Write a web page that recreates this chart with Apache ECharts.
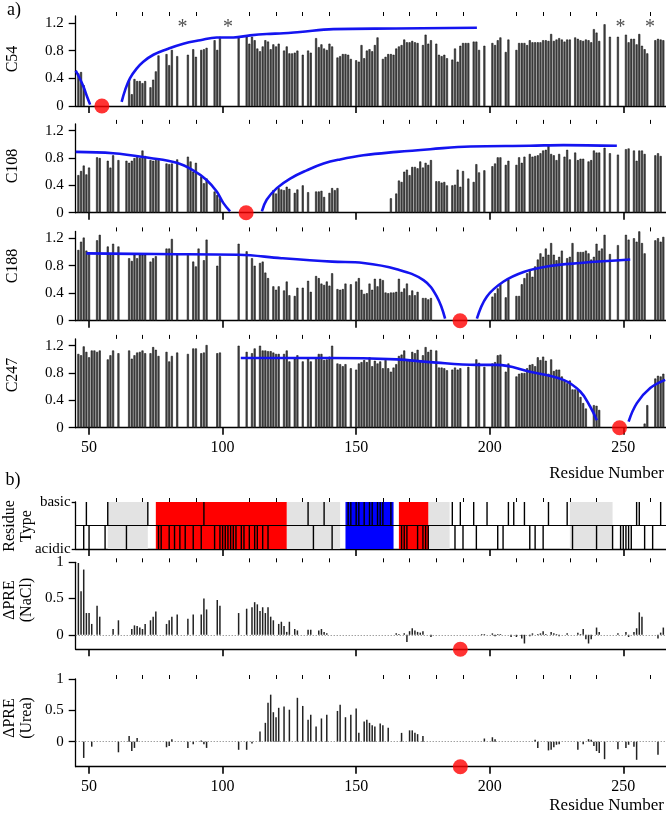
<!DOCTYPE html>
<html><head><meta charset="utf-8">
<script src="https://cdn.jsdelivr.net/npm/echarts@6/dist/echarts.min.js"></script>
<style>html,body{margin:0;padding:0;background:#fff}#c{width:666px;height:815px}</style>
</head><body><div id="c"></div>
<script>
// ---------------- DATA ----------------
const MAJOR_TICKS = [50, 100, 150, 200, 250];
const MINOR_TICKS = [60, 70, 80, 90, 110, 120, 130, 140, 160, 170, 180, 190, 210, 220, 230, 240, 260];
const TOP_Y_TICKS = [0, 0.4, 0.8, 1.2];
const PRE_Y_TICKS = [0, 0.5, 1];
const panelNames = ['C54', 'C108', 'C188', 'C247'];
const spinLabelSites = [54.8, 108.8, 188.9, 248.6];
const asteriskResidues = [85, 102, 249, 260];

const C54 = [[46,0.47],[47,0.49],[48,0.30],[65,0.38],[66,0.17],[67,0.39],[68,0.36],[69,0.36],[70,0.33],[71,0.36],[73,0.27],[74,0.38],[75,0.50],[76,0.73],[79,0.75],[80,0.59],[81,0.81],[83,0.72],[87,0.74],[89,0.82],[90,0.71],[92,0.81],[93,0.82],[94,0.84],[97,0.95],[98,0.81],[99,1.0],[106,1.0],[109,1.0],[110,0.9],[111,1.0],[112,0.95],[113,0.83],[114,0.79],[115,0.86],[116,0.95],[117,0.93],[118,0.82],[119,0.89],[120,0.86],[121,0.9],[123,0.8],[124,0.86],[125,0.76],[126,0.76],[127,0.77],[128,0.8],[130,0.74],[132,0.8],[133,0.77],[135,0.98],[136,0.85],[137,0.89],[138,0.83],[139,0.81],[140,0.9],[141,0.86],
[143,0.70],[144,0.72],[145,0.75],[146,0.75],[147,0.74],[148,0.68],[150,0.66],[151,0.64],[152,0.88],[153,0.69],[154,0.80],[155,0.82],[156,0.79],[157,0.88],[158,0.99],[160,0.68],[161,0.71],[162,0.75],[163,0.75],[164,0.74],[165,0.83],[166,0.86],[167,0.88],[168,0.96],[169,0.92],[170,0.92],[171,0.94],[172,0.92],[173,0.91],[175,0.88],[176,1.03],[177,0.90],[178,0.95],[180,0.90],[181,0.74],[182,0.72],[183,0.74],[184,0.69],[186,0.67],[187,0.83],[188,0.64],[189,0.87],[190,0.91],[191,0.91],[192,0.91],[194,0.93],[195,0.93],[196,0.81],[198,0.87],[201,0.91],[202,0.88],[203,0.95],[204,0.99],[206,0.78],[207,0.96],[210,0.81],[211,0.91],[212,0.91],[213,0.91],[214,0.88],[215,0.95],[216,0.92],[217,0.92],[218,0.92],[219,0.92],[220,0.95],[221,0.95],[222,0.94],[223,1.04],[224,0.94],[225,0.96],[226,0.98],[227,0.96],[228,0.93],[229,0.96],[230,0.96],[232,0.99],[233,0.97],[234,0.95],[235,0.94],[236,0.96],[237,0.95],[238,0.92],[239,1.11],[240,1.06],[241,0.94],[243,1.18],[245,1.0],[248,1.0],[251,1.03],[252,0.92],[253,0.97],[254,0.97],[255,0.89],[256,1.04],[257,0.87],[258,0.82],[259,0.76],[262,0.95],[263,0.97],[264,0.96],[265,0.95]];

const C108 = [[46,0.55],[47,0.61],[48,0.69],[49,0.56],[50,0.66],[53,0.81],[54,0.80],[57,0.76],[58,0.66],[59,0.84],[61,0.77],[64,0.76],[65,0.73],[66,0.76],[67,0.80],[68,0.84],[69,0.80],[70,0.91],[71,0.83],[73,0.77],[74,0.76],[75,0.77],[76,0.77],[79,0.72],[80,0.71],[81,0.72],[83,0.78],[87,0.82],[88,0.75],[89,0.60],[90,0.73],[92,0.53],[93,0.43],[94,0.50],[97,0.31],[98,0.26],[99,0.21],
[119,0.33],[120,0.28],[121,0.36],[122,0.34],[123,0.33],[124,0.38],[125,0.35],[127,0.29],[128,0.34],[130,0.40],[132,0.30],[135,0.31],[136,0.31],[137,0.32],[138,0.23],[140,0.29],[141,0.36],[142,0.33],[143,0.36],
[163,0.21],[165,0.28],[166,0.47],[167,0.45],[168,0.60],[169,0.63],[170,0.55],[171,0.67],[172,0.67],[173,0.65],[174,0.75],[175,0.66],[176,0.73],[177,0.70],[178,0.77],[180,0.46],[181,0.46],[182,0.44],[183,0.45],[184,0.40],[186,0.40],[187,0.41],[188,0.63],[189,0.38],[190,0.61],[192,0.50],[194,0.45],[195,0.71],[196,0.59],[198,0.62],[201,0.68],[202,0.72],[203,0.81],[204,0.81],[206,0.70],[207,0.76],[210,0.70],[211,0.81],[212,0.73],[213,0.82],[215,0.86],[216,0.82],[217,0.83],[218,0.84],[219,0.87],[220,0.91],[221,0.92],[222,1.0],[223,0.86],[224,0.84],[225,0.77],[226,0.86],[228,0.82],[229,0.92],[230,0.78],[232,0.88],[233,0.77],[234,0.79],[235,0.79],[237,0.75],[238,0.77],[239,0.91],[240,0.88],[241,0.88],[243,0.95],[245,0.87],[248,0.85],[251,0.93],[252,0.94],[254,0.91],[255,0.76],[256,0.91],[257,0.91],[258,0.86],[262,0.84],[263,0.87],[264,0.83]];

const C188 = [[46,1.03],[47,1.15],[48,1.21],[49,1.02],[50,0.98],[53,1.17],[54,1.25],[57,1.08],[58,0.98],[59,1.12],[61,1.08],[65,0.91],[66,0.87],[67,0.96],[68,0.91],[69,0.96],[70,0.96],[71,0.96],[73,0.86],[74,0.91],[75,0.94],[79,1.05],[80,1.05],[81,1.19],[83,0.96],[87,0.98],[89,0.86],[90,0.79],[91,1.05],[93,0.88],[94,1.18],[98,0.80],[99,0.94],[106,1.12],[109,1.01],[111,0.91],[112,0.80],[114,0.84],[115,0.86],[116,0.70],[117,0.62],[119,0.50],[120,0.45],[121,0.50],[123,0.44],[124,0.57],[125,0.37],[127,0.36],[128,0.48],[130,0.48],[132,0.58],[133,0.42],[135,0.65],[136,0.62],[137,0.54],[138,0.52],[139,0.57],[140,0.51],[141,0.69],[143,0.46],[144,0.45],[145,0.46],[146,0.54],[148,0.53],[150,0.57],[151,0.62],[152,0.45],[153,0.39],[154,0.40],[155,0.54],[156,0.45],[157,0.61],[158,0.50],[159,0.61],[160,0.59],[161,0.41],[162,0.40],[163,0.41],[164,0.41],[165,0.42],[166,0.61],[167,0.42],[168,0.47],[169,0.54],[170,0.37],[171,0.44],[172,0.37],[173,0.42],[175,0.33],[176,0.33],[177,0.31],[178,0.33],
[201,0.35],[202,0.40],[203,0.47],[204,0.53],[206,0.34],[207,0.60],[210,0.36],[211,0.36],[212,0.53],[213,0.62],[214,0.69],[215,0.75],[216,0.64],[217,0.79],[218,0.89],[219,0.98],[220,0.93],[221,1.05],[222,0.96],[223,1.13],[224,0.96],[225,0.88],[226,0.93],[227,1.02],[229,0.91],[230,0.93],[231,1.13],[233,1.0],[234,1.0],[235,1.0],[236,1.02],[237,0.98],[238,0.89],[239,0.93],[240,1.12],[241,1.02],[242,1.05],[243,1.25],[245,0.97],[248,1.10],[251,1.25],[252,1.18],[254,1.20],[255,1.15],[256,1.30],[257,1.13],[258,0.98],[262,1.17],[263,1.20],[264,1.15],[265,1.22]];

const C247 = [[46,1.08],[47,1.06],[48,1.19],[49,1.11],[50,1.03],[51,1.13],[52,1.13],[53,1.11],[54,1.13],[57,1.0],[58,1.06],[59,1.13],[61,1.09],[65,1.13],[66,1.01],[67,1.06],[68,1.10],[69,1.11],[70,1.13],[71,1.09],[73,1.09],[74,1.18],[75,1.14],[76,1.05],[79,1.11],[80,0.97],[81,1.05],[83,1.10],[87,1.08],[89,1.16],[90,1.16],[92,1.09],[93,1.10],[94,1.21],[98,1.09],[99,1.10],[106,1.2],[109,1.11],[111,1.09],[112,1.16],[114,1.2],[115,1.13],[116,1.13],[117,1.12],[118,1.12],[119,1.10],[120,1.08],[121,1.08],[123,1.08],[124,1.13],[125,0.97],[127,1.01],[128,1.06],[130,0.97],[132,1.01],[133,0.97],[135,1.03],[136,1.08],[137,1.08],[138,0.99],[139,1.0],[140,1.04],[141,1.2],[143,0.94],[144,0.93],[145,0.90],[146,0.93],[148,0.87],[150,0.85],[151,0.94],[152,0.96],[153,0.99],[154,0.96],[155,1.03],[156,0.90],[157,0.98],[158,0.94],[159,0.97],[160,0.87],[161,0.99],[162,0.87],[163,0.82],[164,0.88],[165,0.93],[166,1.05],[167,1.07],[168,1.13],[169,1.0],[170,0.98],[171,1.11],[172,1.09],[173,1.14],[174,0.98],[175,1.06],[176,1.18],[177,1.11],[178,1.14],[180,1.13],[181,0.88],[182,0.88],[183,0.87],[184,0.84],[186,0.85],[187,0.88],[188,0.85],[189,0.87],[192,0.89],[195,1.0],[196,0.95],[198,0.89],[201,0.94],[202,0.96],[203,1.06],[204,1.07],[206,0.82],[207,0.94],[210,0.75],[211,0.79],[212,0.80],[213,0.80],[214,0.87],[215,0.92],[216,0.93],[217,0.90],[218,1.03],[219,0.99],[220,1.04],[221,0.98],[222,0.79],[223,1.0],[224,0.83],[225,0.85],[226,0.85],[227,0.75],[228,0.70],[229,0.65],[230,0.69],[231,0.56],[232,0.56],[233,0.56],[234,0.45],[235,0.36],[236,0.28],[239,0.33],[240,0.32],[241,0.26],[258,0.06],[259,0.33],[262,0.72],[263,0.76],[264,0.75],[265,0.79]];

// theoretical PRE curves
const C54_fitA = [[45,0.51],[46.5,0.40],[48,0.27],[49.3,0.13],[50.4,0.02]];
const C54_fitB = [[62.2,0.06],[63.5,0.23],[65.3,0.40],[67.8,0.54],[70.3,0.64],[74.1,0.74],[79.1,0.82],[85.3,0.90],[91.6,0.95],[97.8,0.99],[104,0.99],[110.3,1.02],[116.5,1.04],[122.8,1.05],[129,1.07],[141.5,1.11],[165,1.12],[195.2,1.13]];
const C108_fitA = [[45,0.89],[59,0.87],[72.8,0.80],[82.8,0.73],[89,0.62],[94,0.48],[97.8,0.31],[100.3,0.14],[102.8,0.02]];
const C108_fitB = [[114.7,0.02],[116.5,0.19],[120.3,0.36],[125.3,0.50],[131.5,0.62],[137.8,0.72],[144,0.78],[152.7,0.84],[165.2,0.89],[177.7,0.93],[192.7,0.97],[215,0.98],[227.6,0.99],[247.6,0.98]];
const C188_fitA = [[49,0.98],[75,0.97],[106,0.96],[122,0.91],[141,0.86],[152.7,0.84],[165.2,0.75],[175.2,0.59],[180.2,0.35],[183.3,0.03]];
const C188_fitB = [[195.2,0.03],[198.9,0.35],[205.2,0.57],[212.7,0.71],[221.4,0.79],[233.9,0.84],[252.6,0.89]];
const C247_fitA = [[106.8,1.02],[140.2,1.02],[165.2,1.0],[177.7,0.96],[195.2,0.92],[202.7,0.92],[215.1,0.82],[227.6,0.70],[233.9,0.53],[237.6,0.31],[240.1,0.11]];
const C247_fitB = [[252,0.09],[255.1,0.36],[260.1,0.58],[265.7,0.70]];

// residue type
const basicResidues = [49,57,72,93,132,138,147,148,150,151,153,155,156,158,159,160,163,186,189,194,199,207,209,213,222,229,255,256,264];
const acidicResidues = [48,50,56,64,76,77,80,82,84,86,89,92,97,99,100,101,102,103,104,105,107,108,110,112,113,115,117,134,141,167,168,169,173,175,176,177,187,190,195,203,205,215,217,220,231,240,246,249,250,251,252,253,258,261];
const grayRegions = [[57,72],[124,144],[177,185],[230,246]];
const redRegions = [[75,124],[166,177]];
const blueRegions = [[146,164]];

// delta PRE
const dPRE_NaCl = [[46,0.99],[47,0.6],[48,0.9],[49,0.3],[50,0.3],[51,0.15],[53,0.4],[54,0.25],[59,0.08],[61,0.2],[66,0.08],[67,0.13],[68,0.12],[69,0.1],[70,0.08],[71,0.15],[73,0.2],[74,0.25],[75,0.32],[79,0.15],[80,0.2],[81,0.25],[83,0.28],[87,0.22],[89,0.28],[92,0.28],[93,0.5],[94,0.35],[98,0.48],[99,0.4],[106,0.3],[109,0.36],[111,0.38],[112,0.45],[113,0.42],[114,0.33],[115,0.38],[116,0.3],[117,0.38],[118,0.25],[119,0.2],[121,0.15],[122,0.18],[123,0.12],[124,0.04],[125,0.18],[127,0.08],[128,0.06],[132,0.07],[133,0.07],[136,0.06],[137,0.08],[138,0.04],[139,0.02],
[165,0.02],[166,0.01],[168,0.02],[169,-0.1],[170,0.05],[171,0.09],[172,0.06],[173,0.04],[174,0.03],[175,0.05],[178,-0.03],[197,0.01],[198,0.01],[201,0.02],[202,-0.02],[203,0.01],[204,0.01],[208,-0.03],[210,-0.03],[212,-0.05],[213,-0.12],[215,-0.02],[216,0.02],[218,0.01],[219,0.02],[220,0.05],[221,0.01],[223,0.04],[224,0.02],[225,0.01],[226,-0.02],[229,0.02],[233,0.03],[234,0.01],[235,0.08],[236,-0.06],[237,-0.12],[238,-0.06],[240,0.1],[241,0.04],[248,0.02],[251,0.04],[252,-0.03],[254,0.04],[255,0.09],[256,0.31],[257,0.25],[263,-0.05],[264,0.03],[265,0.1]];
const dPRE_Urea = [[48,-0.26],[51,-0.08],[61,-0.17],[65,0.09],[66,-0.15],[67,-0.1],[68,0.06],[79,-0.09],[80,-0.07],[81,0.04],[87,-0.1],[89,-0.04],[92,0.02],[93,-0.04],[94,-0.1],[106,-0.13],[109,-0.13],[111,-0.03],[114,0.16],[116,0.30],[117,0.62],[118,0.75],[119,0.47],[120,0.39],[121,0.54],[123,0.56],[125,0.51],[128,0.70],[130,0.57],[132,0.35],[133,0.43],[135,0.24],[137,0.37],[139,0.43],[143,0.49],[144,0.59],[146,0.39],[148,0.43],[150,0.53],[151,0.14],[153,0.32],[154,0.35],[155,0.30],[156,0.26],[157,0.24],[159,0.29],[160,0.26],[162,0.22],[167,0.14],[170,0.18],[171,0.18],[172,0.14],[173,0.12],[175,0.09],[198,0.05],[201,0.07],[202,0.04],[217,0.03],[218,-0.1],[222,-0.14],[223,-0.13],[224,-0.09],[225,-0.05],[226,-0.04],[233,-0.13],[235,-0.04],[237,0.04],[238,0.03],[239,-0.07],[240,-0.15],[241,-0.18],[243,-0.28],[248,-0.12],[251,-0.1],[252,-0.05],[254,-0.08],[255,-0.29],[263,-0.21]];
const preSpinSite = 189;

// ---------------- CHART ----------------
const SERIF = '"Liberation Serif", "DejaVu Serif", serif';
const X_MIN = 45, X_MAX = 266;
const L = 75.7, W = 590.3;
const grids = [
  {left: L, width: W, top: 16, height: 90},
  {left: L, width: W, top: 123.9, height: 88.8},
  {left: L, width: W, top: 231.4, height: 89.3},
  {left: L, width: W, top: 338.9, height: 88.8},
  {left: L, width: W, top: 502, height: 47},
  {left: L, width: W, top: 562.3, height: 87},
  {left: L, width: W, top: 679, height: 87.7}
];
const xAxes = [], yAxes = [];
grids.forEach((g, i) => {
  const showLab = (i === 3 || i === 6);
  xAxes.push({type: 'value', gridIndex: i, min: X_MIN, max: X_MAX,
    axisLine: {show: true, onZero: false, lineStyle: {color: '#000', width: 1.3}},
    axisTick: {show: true, customValues: MAJOR_TICKS, length: 7, lineStyle: {color: '#000', width: 1.6}},
    axisLabel: {show: showLab, customValues: MAJOR_TICKS, margin: 12, fontSize: 16, color: '#000', fontFamily: SERIF},
    splitLine: {show: false}});
  xAxes.push({type: 'value', gridIndex: i, min: X_MIN, max: X_MAX,
    axisLine: {show: false, onZero: false},
    axisTick: {show: true, customValues: MINOR_TICKS, length: 4, lineStyle: {color: '#000', width: 1}},
    axisLabel: {show: false}, splitLine: {show: false}});
});
const yBase = {type: 'value', axisLine: {show: true, lineStyle: {color: '#000', width: 1.3}},
  axisTick: {show: true, length: 7, lineStyle: {color: '#000', width: 1.3}},
  splitLine: {show: false}};
for (let i = 0; i < 4; i++) {
  yAxes.push(Object.assign({}, yBase, {gridIndex: i, min: 0, max: 1.3,
    axisTick: Object.assign({}, yBase.axisTick, {customValues: TOP_Y_TICKS}),
    axisLabel: {customValues: TOP_Y_TICKS, margin: 12, fontSize: 15, color: '#000', fontFamily: SERIF}}));
}
yAxes.push(Object.assign({}, yBase, {gridIndex: 4, min: 0, max: 2,
  axisTick: Object.assign({}, yBase.axisTick, {customValues: [0, 2], length: 4}),
  axisLabel: {customValues: [0, 2], margin: 5, fontSize: 15, color: '#000', fontFamily: SERIF,
    formatter: v => (v === 2 ? 'basic' : 'acidic')}}));
yAxes.push(Object.assign({}, yBase, {gridIndex: 5, min: -0.2, max: 1,
  axisTick: Object.assign({}, yBase.axisTick, {customValues: PRE_Y_TICKS}),
  axisLabel: {customValues: PRE_Y_TICKS, margin: 12, fontSize: 15, color: '#000', fontFamily: SERIF}}));
yAxes.push(Object.assign({}, yBase, {gridIndex: 6, min: -0.4, max: 1,
  axisTick: Object.assign({}, yBase.axisTick, {customValues: PRE_Y_TICKS}),
  axisLabel: {customValues: PRE_Y_TICKS, margin: 12, fontSize: 15, color: '#000', fontFamily: SERIF}}));

const series = [];
const panelData = [C54, C108, C188, C247];
const fits = [[C54_fitA, C54_fitB], [C108_fitA, C108_fitB], [C188_fitA, C188_fitB], [C247_fitA, C247_fitB]];
panelData.forEach((d, i) => {
  series.push({type: 'bar', xAxisIndex: 2 * i, yAxisIndex: i, data: d, barWidth: 2,
    itemStyle: {color: '#4a4a4a', borderColor: '#000', borderWidth: 0.5}, silent: true, z: 2});
  fits[i].forEach(f => series.push({type: 'line', xAxisIndex: 2 * i, yAxisIndex: i, data: f,
    smooth: 0.4, showSymbol: false, lineStyle: {color: '#1414f0', width: 2.6}, silent: true, z: 4}));
  series.push({type: 'scatter', xAxisIndex: 2 * i, yAxisIndex: i, data: [[spinLabelSites[i], 0]],
    symbolSize: 15, itemStyle: {color: '#ff0000'}, clip: false, silent: true, z: 6});
});
series.push({type: 'scatter', xAxisIndex: 0, yAxisIndex: 0,
  data: asteriskResidues.map(r => [r, 1.21]), symbolSize: 1, itemStyle: {color: 'rgba(0,0,0,0)'},
  label: {show: true, position: 'inside', formatter: '*', fontSize: 20, color: '#222', fontFamily: SERIF, offset: [0, 6]},
  clip: false, silent: true});

// residue type
const regionItems = [];
grayRegions.forEach(r => regionItems.push([{xAxis: r[0], itemStyle: {color: '#e3e3e3'}}, {xAxis: r[1]}]));
redRegions.forEach(r => regionItems.push([{xAxis: r[0], itemStyle: {color: '#ff0000'}}, {xAxis: r[1]}]));
blueRegions.forEach(r => regionItems.push([{xAxis: r[0], itemStyle: {color: '#0000ff'}}, {xAxis: r[1]}]));
series.push({type: 'scatter', xAxisIndex: 8, yAxisIndex: 4, data: [], silent: true, z: 1,
  markArea: {silent: true, data: regionItems, itemStyle: {opacity: 1}},
  markLine: {silent: true, symbol: 'none', label: {show: false}, lineStyle: {color: '#000', width: 1.2, type: 'solid'}, data: [{yAxis: 1}]}});
const typeData = basicResidues.map(r => [r, 1]).concat(acidicResidues.map(r => [r, 0]));
series.push({type: 'custom', xAxisIndex: 8, yAxisIndex: 4, data: typeData, silent: true, z: 3,
  renderItem: (params, api) => {
    const p0 = api.coord([api.value(0), api.value(1)]);
    const p1 = api.coord([api.value(0), api.value(1) + 1]);
    return {type: 'line', shape: {x1: p0[0], y1: p0[1], x2: p1[0], y2: p1[1]}, style: {stroke: '#000', lineWidth: 1.4}};
  }});

// delta PRE panels
[[dPRE_NaCl, 5, -0.2], [dPRE_Urea, 6, -0.4]].forEach(([d, gi, bottom]) => {
  series.push({type: 'bar', xAxisIndex: 2 * gi, yAxisIndex: gi, data: d, barWidth: 1.5,
    itemStyle: {color: '#222'}, silent: true, z: 3,
    markLine: {silent: true, symbol: 'none', label: {show: false}, lineStyle: {color: '#777', width: 1, type: [1, 2]}, data: [{yAxis: 0}]}});
  series.push({type: 'scatter', xAxisIndex: 2 * gi, yAxisIndex: gi, data: [[preSpinSite, bottom]],
    symbolSize: 15, itemStyle: {color: '#ff0000'}, clip: false, silent: true, z: 6});
});

const txt = (x, y, text, size, rot, extra) => Object.assign({type: 'text', x: x, y: y, rotation: rot || 0,
  style: {text: text, fill: '#000', fontSize: size, fontFamily: SERIF, align: 'center', verticalAlign: 'middle', lineHeight: size * 1.05}}, extra || {});
const graphic = [
  txt(14, 10, 'a)', 18),
  txt(13, 480, 'b)', 18),
  txt(13, 59, panelNames[0], 16, Math.PI / 2),
  txt(13, 166, panelNames[1], 16, Math.PI / 2),
  txt(13, 266, panelNames[2], 16, Math.PI / 2),
  txt(13, 375, panelNames[3], 16, Math.PI / 2),
  txt(18, 526, 'Residue\nType', 16, Math.PI / 2),
  txt(18, 600, 'ΔPRE\n(NaCl)', 16, Math.PI / 2),
  txt(18, 718, 'ΔPRE\n(Urea)', 16, Math.PI / 2),
  {type: 'text', x: 664, y: 474, style: {text: 'Residue Number', fill: '#000', fontSize: 17, fontFamily: SERIF, align: 'right', verticalAlign: 'middle'}},
  {type: 'text', x: 664, y: 806, style: {text: 'Residue Number', fill: '#000', fontSize: 17, fontFamily: SERIF, align: 'right', verticalAlign: 'middle'}}
];

const chart = echarts.init(document.getElementById('c'), null, {renderer: 'canvas'});
chart.setOption({animation: false, backgroundColor: '#fff', grid: grids, xAxis: xAxes, yAxis: yAxes, series: series, graphic: graphic});
</script></body></html>
